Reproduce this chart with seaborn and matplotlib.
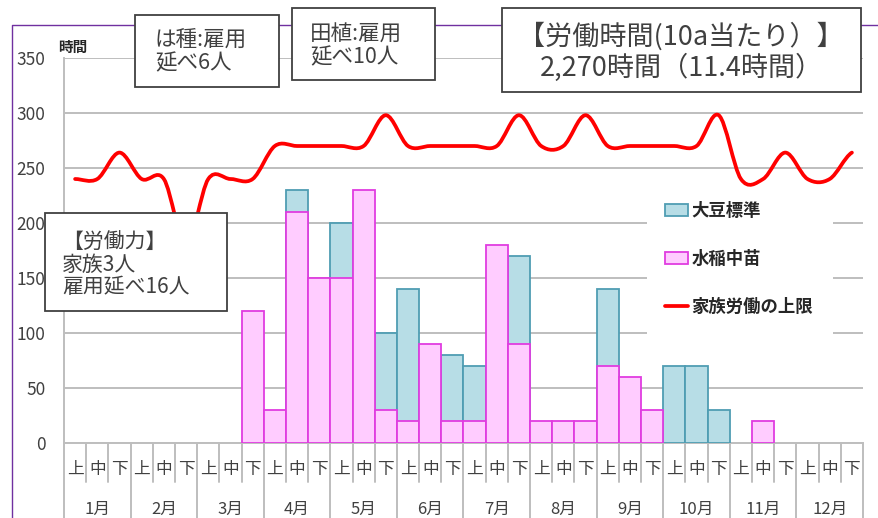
import numpy as np
import pandas as pd
import matplotlib
matplotlib.use('Agg')
import matplotlib.pyplot as plt
import seaborn as sns
from matplotlib.path import Path
from matplotlib.patches import PathPatch, Rectangle, Patch
from matplotlib.lines import Line2D
import matplotlib.transforms as mtransforms

# ---------------- data ----------------
months = [f'{m}月' for m in range(1, 13)]
dekads = ['上', '中', '下']
# 水稲中苗 (hours per dekad)
rice = [0, 0, 0,   0, 0, 0,   0, 0, 120,   30, 210, 150,   150, 230, 30,
        20, 90, 20,   20, 180, 90,   20, 20, 20,   70, 60, 30,   0, 0, 0,
        0, 20, 0,   0, 0, 0]
# 大豆標準 (hours per dekad, stacked on rice)
soy = [0, 0, 0,   0, 0, 0,   0, 0, 0,   0, 20, 0,   50, 0, 70,
       120, 0, 60,   50, 0, 80,   0, 0, 0,   70, 0, 0,   70, 70, 30,
       0, 0, 0,   0, 0, 0]
# 家族労働の上限
family_limit = [240, 240, 264,   240, 240, 180,   240, 240, 240,   270, 270, 270,
                270, 270, 298,   270, 270, 270,   270, 270, 298,   270, 270, 298,
                270, 270, 270,   270, 270, 298,   240, 240, 264,   240, 240, 264]
y_ticks = [0, 50, 100, 150, 200, 250, 300, 350]
legend_labels = ['大豆標準', '水稲中苗', '家族労働の上限']

# ---------------- style ----------------
sns.set_style('white')
plt.rcParams['font.family'] = ['Noto Sans CJK JP', 'DejaVu Sans']

BLUE = '#B7DDE6'
TEAL = '#4F9DB3'
PINK = '#FFCCFF'
MAGENTA = '#E03CE0'
RED = '#FF0000'
GRID = '#BEBEBE'
TXT = '#404040'

W, H = 879, 518
fig = plt.figure(figsize=(W / 100, H / 100), dpi=100)
fig.patch.set_facecolor('white')


def fx(x):
    return x / W


def fy(y):
    return 1 - y / H


ax = fig.add_axes([fx(64), fy(443), (863 - 64) / W, (443 - 58) / H])
n = len(rice)
pos = list(range(n))
total = [r + s for r, s in zip(rice, soy)]

df_soy = pd.DataFrame({'pos': [i for i in pos if soy[i] > 0],
                       'val': [total[i] for i in pos if soy[i] > 0]})
df_rice = pd.DataFrame({'pos': [i for i in pos if rice[i] > 0],
                        'val': [rice[i] for i in pos if rice[i] > 0]})

sns.barplot(data=df_soy, x='pos', y='val', order=pos, color=BLUE,
            edgecolor=TEAL, linewidth=1.3, width=1.0, saturation=1,
            errorbar=None, ax=ax, zorder=3)
sns.barplot(data=df_rice, x='pos', y='val', order=pos, color=PINK,
            edgecolor=MAGENTA, linewidth=1.3, width=1.0, saturation=1,
            errorbar=None, ax=ax, zorder=4)

# smoothed family labour limit line (Bezier through the data points)
pts = np.array(family_limit, dtype=float)
prev = np.r_[pts[0], pts[:-1]]
nxt = np.r_[pts[1:], pts[-1]]
tang = (nxt - prev) / 2.0
verts = [(0, pts[0])]
codes = [Path.MOVETO]
for i in range(n - 1):
    verts += [(i + 1 / 3, pts[i] + tang[i] / 3),
              (i + 2 / 3, pts[i + 1] - tang[i + 1] / 3),
              (i + 1, pts[i + 1])]
    codes += [Path.CURVE4] * 3
ax.add_patch(PathPatch(Path(verts, codes), fill=False, edgecolor=RED, lw=2.7,
                       zorder=5, capstyle='round', joinstyle='round'))

ax.set_xlim(-0.5, n - 0.5)
ax.set_ylim(0, 350)
ax.set_yticks(y_ticks)
ax.set_xticks([])
ax.set_xlabel('')
ax.set_ylabel('')
ax.set_axisbelow(True)
ax.yaxis.grid(True, color=GRID, lw=1.4)
ax.xaxis.grid(False)
for s in ['top', 'right']:
    ax.spines[s].set_visible(False)
for s in ['left', 'bottom']:
    ax.spines[s].set_color(GRID)
    ax.spines[s].set_linewidth(1.4)
ax.tick_params(axis='y', length=4.4, width=1.4, color=GRID, pad=9,
               labelsize=12.5, labelcolor=TXT)

# white area behind legend
ax.add_patch(Rectangle((fx(647), fy(345)), (833 - 647) / W, (345 - 190) / H,
                       transform=fig.transFigure, facecolor='white',
                       edgecolor='none', zorder=1))

# two-level category axis
trans = mtransforms.blended_transform_factory(ax.transData, ax.transAxes)
for b in range(n + 1):
    if b % 3 == 0:
        ax.plot([b - 0.5, b - 0.5], [0, -0.2], transform=trans, color=GRID,
                lw=1.4, clip_on=False, zorder=2)
    else:
        ax.plot([b - 0.5, b - 0.5], [0, -0.1013], transform=trans, color=GRID,
                lw=1.4, clip_on=False, zorder=2)
for i in pos:
    ax.text(i, -0.068, dekads[i % 3], transform=trans, ha='center',
            va='center', fontsize=12, color=TXT)
for m, lab in enumerate(months):
    ax.text(3 * m + 1, -0.172, lab, transform=trans, ha='center',
            va='center', fontsize=12, color=TXT)

# unit label
fig.text(fx(58), fy(47), '時間', ha='left', va='center', fontsize=10.5,
         fontweight='bold', color='#262626')

# outer purple frame (partially visible)
fig.add_artist(Line2D([fx(12), fx(12), fx(880)], [fy(520), fy(25), fy(25)],
                      transform=fig.transFigure, color='#7030A0', lw=1.0,
                      zorder=0.5))

# legend
handles = [Patch(facecolor=BLUE, edgecolor=TEAL, lw=1.3),
           Patch(facecolor=PINK, edgecolor=MAGENTA, lw=1.3),
           Line2D([], [], color=RED, lw=2.7)]
fig.legend(handles, legend_labels, loc='upper left',
           bbox_to_anchor=(fx(665), fy(202)), bbox_transform=fig.transFigure,
           frameon=False, prop=dict(size=12.5, weight='bold'),
           handlelength=1.32, handleheight=0.69, handletextpad=0.2,
           labelspacing=1.72, borderpad=0, borderaxespad=0)


# annotation boxes
def box(x0, y0, x1, y1):
    fig.add_artist(Rectangle((fx(x0), fy(y1)), (x1 - x0) / W, (y1 - y0) / H,
                             transform=fig.transFigure, facecolor='white',
                             edgecolor='#404040', lw=1.3, zorder=5))


box(135, 15, 279, 87)
fig.text(fx(155), fy(52), 'は種:雇用\n延べ6人', ha='left', va='center',
         fontsize=15.5, color=TXT, linespacing=1.02, zorder=6)
box(292, 8, 435, 80)
fig.text(fx(310), fy(46), '田植:雇用\n延べ10人', ha='left', va='center',
         fontsize=15.5, color=TXT, linespacing=1.02, zorder=6)
box(502, 8, 861, 92)
fig.text(fx(681), fy(52), '【労働時間(10a当たり）】\n2,270時間（11.4時間）',
         ha='center', va='center', fontsize=19.5, color=TXT, linespacing=1.12,
         multialignment='center', zorder=6)
box(45, 213, 227, 311)
fig.text(fx(62), fy(265), '【労働力】\n家族3人\n雇用延べ16人', ha='left',
         va='center', fontsize=15, color=TXT, linespacing=1.02, zorder=6)

fig.savefig('out.png', dpi=100, facecolor='white')
